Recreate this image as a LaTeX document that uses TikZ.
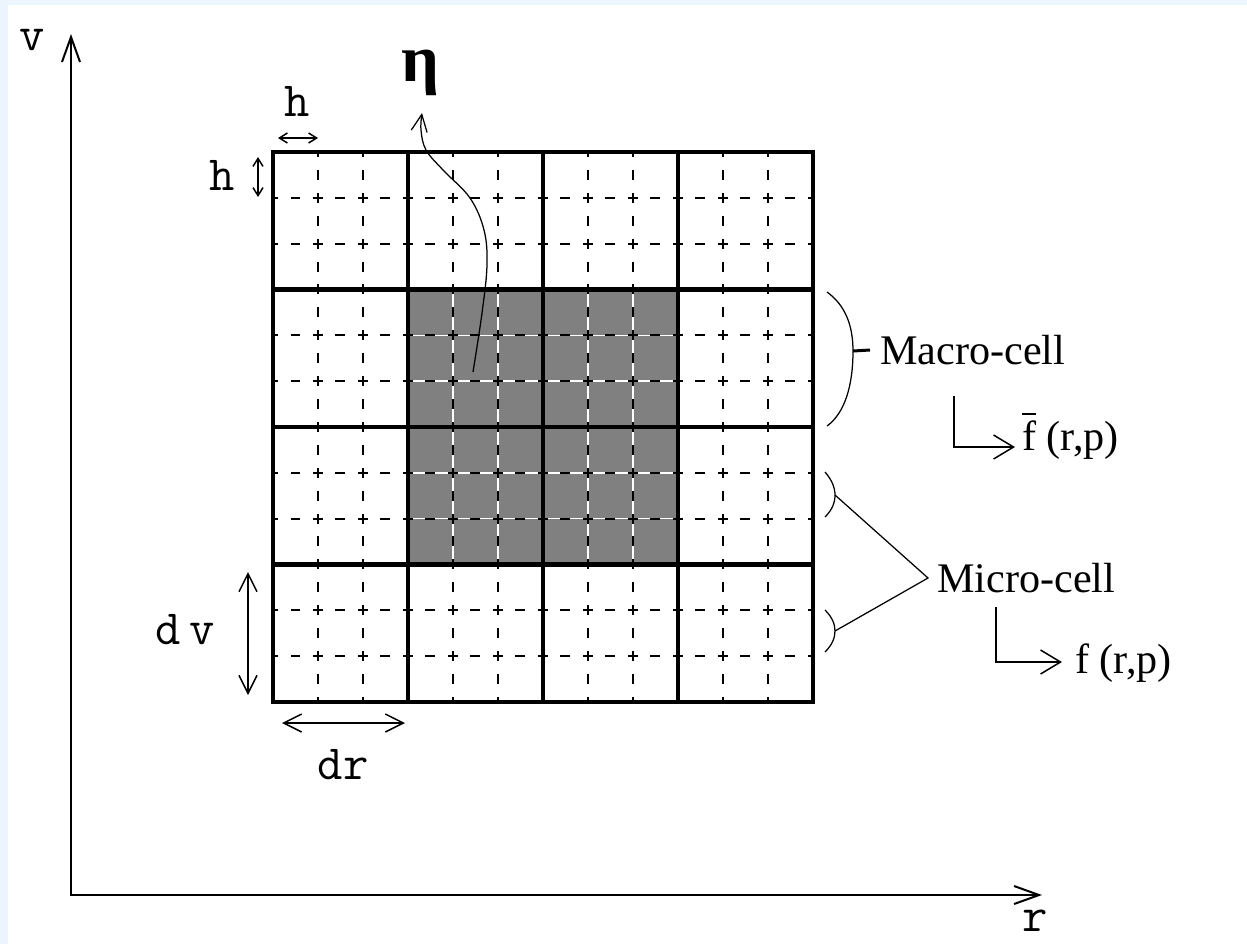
\documentclass[tikz,border=0pt]{standalone}
\usepackage{fontspec}
\usepackage{amsmath}
\newfontfamily\seriffont{Liberation Serif}
\usetikzlibrary{arrows.meta}
\definecolor{pagebg}{RGB}{236,244,253}
\tikzset{
  macroline/.style={line width=0.09cm},
  microh/.style={line width=0.04cm, dash pattern=on 0.2cm off 0.25cm, dash phase=0.1cm},
  microv/.style={line width=0.04cm, dash pattern=on 0.2cm off 0.2583cm, dash phase=0.1cm},
  microgap/.style={white, line width=0.03cm},
  fineline/.style={line width=0.025cm},
  axis/.style={line width=0.04cm, {Straight Barb[length=0.5cm, width=0.36cm]}-{Straight Barb[length=0.5cm, width=0.36cm]}},
  dim/.style={line width=0.03cm, {Straight Barb[length=0.36cm, width=0.36cm]}-{Straight Barb[length=0.36cm, width=0.36cm]}},
  smalldim/.style={line width=0.03cm, {Straight Barb[length=0.16cm, width=0.2cm]}-{Straight Barb[length=0.16cm, width=0.2cm]}},
  lead/.style={line width=0.03cm, -{Straight Barb[length=0.4cm, width=0.48cm]}},
  monolabel/.style={font=\ttfamily\fontsize{28}{30}\selectfont, inner sep=0pt},
  seriflabel/.style={font=\seriffont\fontsize{24}{28}\selectfont, inner sep=0pt}
}

\begin{document}
\begin{tikzpicture}[x=0.02cm, y=-0.02cm]
\useasboundingbox (0,0) rectangle (1247,944);
\fill[pagebg] (0,0) rectangle (1247,944);
\fill[white] (8,5) rectangle (1247,944);

% axes
\coordinate (origin) at (71,895);
\coordinate (vtip) at (71,34);
\coordinate (rtip) at (1042,895);
\draw[axis] (vtip) -- (origin) -- (rtip);
\node[monolabel] (vlabel) at (32,40) {v};
\node[monolabel] (rlabel) at (1035,921) {r};

% shaded macro-cells
\fill[gray] (408,289.5) rectangle (678,564.5);

% micro-cells
\foreach \i in {1,2,4,5,7,8,10,11} {
  \draw[microgap] ({273+45*\i},152) -- ({273+45*\i},702);
  \draw[microgap] (273,{152+45.833*\i}) -- (813,{152+45.833*\i});
}
\foreach \i in {1,2,4,5,7,8,10,11} {
  \draw[microv] ({273+45*\i},152) -- ({273+45*\i},702);
  \draw[microh] (273,{152+45.833*\i}) -- (813,{152+45.833*\i});
}

% macro-cells
\draw[macroline] (273,152) rectangle (813,702);
\foreach \k in {1,2,3} {
  \draw[macroline] ({273+135*\k},152) -- ({273+135*\k},702);
  \draw[macroline] (273,{152+137.5*\k}) -- (813,{152+137.5*\k});
}

% sizes
\draw[smalldim] (278,138) -- (318,138);
\node[monolabel] (htop) at (297,101) {h};
\draw[smalldim] (258,157) -- (258,197);
\node[monolabel] (hleft) at (222,175) {h};
\draw[dim] (248,572) -- (248,695);
\node[monolabel] (dvlabel) at (185,630) {d\,v};
\draw[dim] (282,723) -- (405,723);
\node[monolabel] (drlabel) at (343,765) {dr};

% eta
\node[font=\seriffont\bfseries\fontsize{38}{40}\selectfont, inner sep=0pt] (eta) at (420,73) {η};
\coordinate (etatip) at (422,113);
\draw[fineline, -{Straight Barb[length=0.34cm, width=0.32cm]}] plot[smooth, tension=0.6] coordinates {(473,372) (482,313) (487,265) (484,230) (470,198) (443,170) (426,150) (421,130) (etatip)};

% macro-cell label
\coordinate (macrocusp) at (853,351);
\draw[fineline] (827,292) .. controls (845,305) and (853,325) .. (macrocusp) .. controls (853,385) and (845,413) .. (827,426);
\node[seriflabel, anchor=west, inner xsep=0.2cm] (macro) at (870,350) {Macro-cell};
\draw[line width=0.06cm] (macrocusp) -- (macro.west);
\coordinate (macrodrop) at (954,396);
\node[seriflabel, anchor=base west] (fbar) at (1022,450) {$\overline{\mbox{f}}$ (r,p)};
\draw[lead] (macrodrop) |- ([xshift=-0.14cm, yshift=0.06cm]fbar.base west);

% micro-cell label
\coordinate (microtop) at (835,495);
\coordinate (microbot) at (835,631);
\draw[fineline] (825,472) .. controls (832,480) and (835,488) .. (microtop) .. controls (835,503) and (832,510) .. (825,517);
\draw[fineline] (825,610) .. controls (832,617) and (835,624) .. (microbot) .. controls (835,638) and (832,645) .. (825,652);
\node[seriflabel, anchor=west, inner xsep=0.18cm] (micro) at (928,578) {Micro-cell};
\draw[fineline] (microtop) -- (micro.west) -- (microbot);
\coordinate (microdrop) at (996,607);
\node[seriflabel, anchor=base west] (f) at (1075,673) {f (r,p)};
\draw[lead] (microdrop) |- ([xshift=-0.26cm, yshift=0.22cm]f.base west);
\end{tikzpicture}
\end{document}
